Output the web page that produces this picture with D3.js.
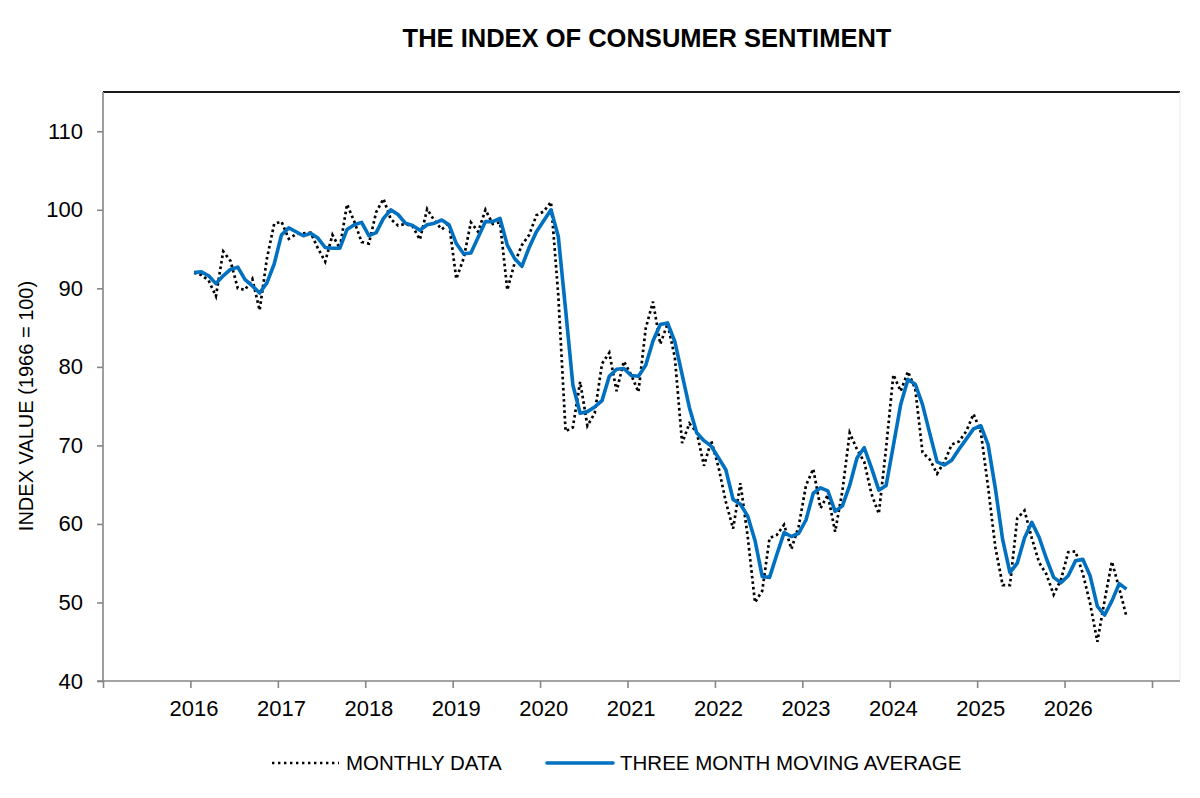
<!DOCTYPE html>
<html>
<head>
<meta charset="utf-8">
<script src="https://cdn.jsdelivr.net/npm/d3@7"></script>
<style>
  html, body { margin: 0; padding: 0; background: #fff; }
  svg { display: block; font-family: "Liberation Sans", Arial, sans-serif; }
</style>
</head>
<body>
<svg id="chart" width="1200" height="798"></svg>
<script>
// ---- Data (monthly, Jan 2016 .. Sep 2026) ----
const startYear = 2016;
const yearLabels = ["2016","2017","2018","2019","2020","2021","2022","2023","2024","2025","2026"];
const yTicks = [40, 50, 60, 70, 80, 90, 100, 110];

const monthlyData = [
  92.0, 91.7, 91.0, 89.0, 94.7, 93.5, 90.0, 89.8, 91.2, 87.2, 93.8, 98.2,
  98.5, 96.3, 96.9, 97.0, 97.1, 95.1, 93.4, 96.8, 95.1, 100.7, 98.5, 95.9,
  95.7, 99.7, 101.4, 98.8, 98.0, 98.2, 97.9, 96.2, 100.1, 98.6, 97.5, 98.3,
  91.2, 93.8, 98.4, 97.2, 100.0, 98.2, 98.4, 89.8, 93.2, 95.5, 96.8, 99.3,
  99.8, 101.0, 89.1, 71.8, 72.3, 78.1, 72.5, 74.1, 80.4, 81.8, 76.9, 80.7,
  79.0, 76.8, 84.9, 88.3, 82.9, 85.5, 81.2, 70.3, 72.8, 71.7, 67.4, 70.6,
  67.2, 62.8, 59.4, 65.2, 58.4, 50.0, 51.5, 58.2, 58.6, 59.9, 56.8, 59.7,
  64.9, 67.0, 62.0, 63.7, 59.0, 64.2, 71.6, 69.5, 67.9, 63.8, 61.3, 69.7,
  79.0, 76.9, 79.4, 77.2, 69.1, 68.2, 66.4, 67.9, 70.1, 70.5, 71.8, 74.0,
  71.7, 64.7, 57.0, 52.2, 52.2, 60.7, 61.7, 58.2, 55.1, 53.6, 51.0, 52.9,
  56.4, 56.5, 53.7, 49.9, 45.0, 50.3, 55.2, 51.8, 48.2
];

const movingAverage = [
  92.0, 92.1, 91.6, 90.6, 91.6, 92.4, 92.7, 91.1, 90.3, 89.4, 90.7, 93.1,
  96.8, 97.7, 97.2, 96.7, 97.0, 96.4, 95.2, 95.1, 95.1, 97.5, 98.1, 98.4,
  96.7, 97.1, 98.9, 100.0, 99.4, 98.3, 98.0, 97.4, 98.1, 98.3, 98.7, 98.1,
  95.7, 94.4, 94.5, 96.5, 98.5, 98.5, 98.9, 95.5, 93.8, 92.8, 95.2, 97.2,
  98.6, 100.0, 96.6, 87.3, 77.7, 74.1, 74.3, 74.9, 75.7, 78.8, 79.7, 79.8,
  78.9, 78.8, 80.2, 83.3, 85.4, 85.6, 83.2, 79.0, 74.8, 71.6, 70.6, 69.9,
  68.4, 66.9, 63.1, 62.5, 61.0, 57.9, 53.3, 53.2, 56.1, 58.9, 58.4, 58.8,
  60.5, 63.9, 64.6, 64.2, 61.6, 62.3, 64.9, 68.4, 69.7, 67.1, 64.3, 64.9,
  70.0, 75.2, 78.4, 77.8, 75.2, 71.5, 67.9, 67.5, 68.1, 69.5, 70.8, 72.1,
  72.5, 70.1, 64.5, 58.0, 53.8, 55.0, 58.2, 60.2, 58.3, 55.6, 53.2, 52.5,
  53.4, 55.3, 55.5, 53.4, 49.5, 48.4, 50.2, 52.4, 51.7
];

const seriesNames = ["MONTHLY DATA", "THREE MONTH MOVING AVERAGE"];
const titleText = "THE INDEX OF CONSUMER SENTIMENT";
const yAxisTitle = "INDEX VALUE (1966 = 100)";

// ---- Layout ----
const svg = d3.select("#chart");
const plotLeft = 103, plotRight = 1152, plotTop = 92, plotBottom = 681, frameRight = 1180;
const blue = "#0070C0";
const axisGray = "#868686";
const fontFam = "'Liberation Sans', Arial, sans-serif";

// month index (0 = Jan 2016); axis starts one year before
const x = d3.scaleLinear().domain([-12, 132]).range([plotLeft, plotRight]);
const y = d3.scaleLinear().domain([40, 115]).range([plotBottom, plotTop]);

// Title
svg.append("text")
  .attr("x", 647).attr("y", 47)
  .attr("text-anchor", "middle")
  .attr("font-size", 25.5).attr("font-weight", "bold")
  .attr("fill", "#000")
  .text(titleText);

// Frame: top dark border, faint right border
svg.append("line").attr("x1", plotLeft).attr("x2", frameRight).attr("y1", plotTop).attr("y2", plotTop)
  .attr("stroke", "#1a1a1a").attr("stroke-width", 2);
svg.append("line").attr("x1", frameRight).attr("x2", frameRight).attr("y1", plotTop).attr("y2", plotBottom)
  .attr("stroke", "#ececec").attr("stroke-width", 1);

// Y axis
const yAxis = d3.axisLeft(y).tickValues(yTicks).tickSize(6).tickPadding(14).tickFormat(d3.format("d"));
const gy = svg.append("g").attr("transform", `translate(${plotLeft},0)`).call(yAxis);
gy.select(".domain").remove();
gy.append("line").attr("x1", 0).attr("x2", 0).attr("y1", plotTop).attr("y2", plotBottom)
  .attr("stroke", axisGray).attr("stroke-width", 1.6);
gy.selectAll(".tick line").attr("stroke", axisGray).attr("stroke-width", 1.6);
gy.selectAll(".tick text").attr("font-size", 22).attr("fill", "#000")
  .attr("font-family", fontFam);

// X axis
const xTickVals = d3.range(-12, 133, 12);
const xAxis = d3.axisBottom(x).tickValues(xTickVals).tickSize(7).tickFormat("");
const gx = svg.append("g").attr("transform", `translate(0,${plotBottom})`).call(xAxis);
gx.select(".domain").remove();
gx.append("line").attr("x1", plotLeft - 6).attr("x2", frameRight).attr("y1", 0).attr("y2", 0)
  .attr("stroke", axisGray).attr("stroke-width", 1.6);
gx.selectAll(".tick line").attr("stroke", axisGray).attr("stroke-width", 1.6);
gx.selectAll(".yearlab").data(yearLabels).enter().append("text")
  .attr("class", "yearlab")
  .attr("x", (d) => x((+d - startYear) * 12 + 0.5))
  .attr("y", 35)
  .attr("text-anchor", "middle")
  .attr("font-size", 22).attr("fill", "#000")
  .attr("font-family", fontFam)
  .text(d => d);

// Y axis title
svg.append("text")
  .attr("transform", "translate(33,406) rotate(-90)")
  .attr("text-anchor", "middle")
  .attr("font-size", 20).attr("fill", "#000")
  .text(yAxisTitle);

// Lines
const line = d3.line()
  .x((d, i) => x(i + 0.5))
  .y(d => y(d));

svg.append("path").datum(monthlyData)
  .attr("d", line)
  .attr("fill", "none")
  .attr("stroke", "#000")
  .attr("stroke-width", 2.7)
  .attr("stroke-dasharray", "2.6 3.0");

svg.append("path").datum(movingAverage)
  .attr("d", line)
  .attr("fill", "none")
  .attr("stroke", blue)
  .attr("stroke-width", 3.6)
  .attr("stroke-linejoin", "round");

// Legend
const lg = svg.append("g");
lg.append("line").attr("x1", 272).attr("x2", 339).attr("y1", 763).attr("y2", 763)
  .attr("stroke", "#000").attr("stroke-width", 2.6).attr("stroke-dasharray", "2.4 3.6");
lg.append("text").attr("x", 346).attr("y", 770).attr("font-size", 20.5).attr("fill", "#000")
  .text(seriesNames[0]);
lg.append("line").attr("x1", 547).attr("x2", 613).attr("y1", 763).attr("y2", 763)
  .attr("stroke", blue).attr("stroke-width", 3.6).attr("stroke-linecap", "round");
lg.append("text").attr("x", 620).attr("y", 770).attr("font-size", 20.5).attr("fill", "#000")
  .text(seriesNames[1]);
</script>
</body>
</html>
